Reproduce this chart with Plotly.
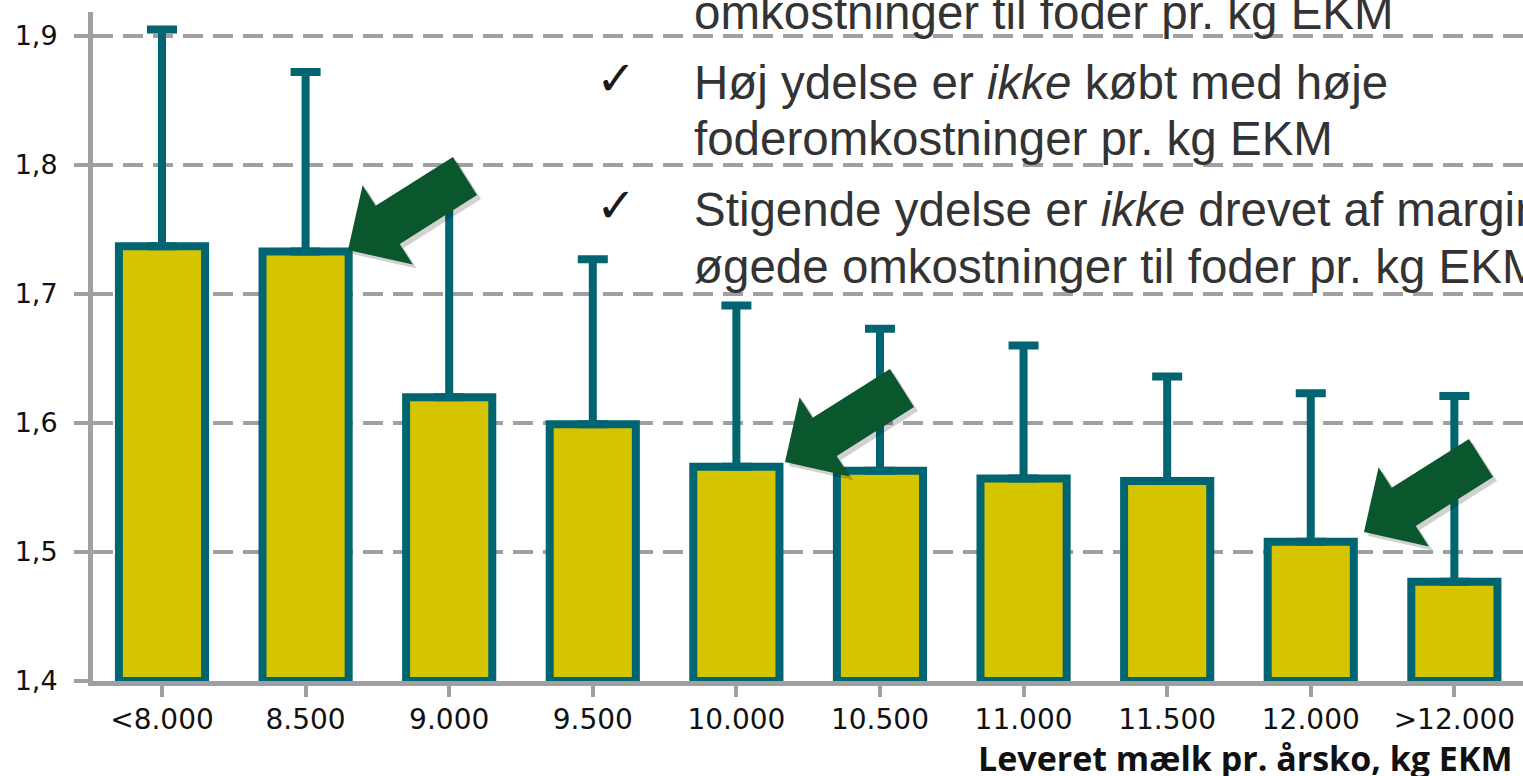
import math
import plotly.graph_objects as go

# ---------------- data ----------------
categories = ["<8.000", "8.500", "9.000", "9.500", "10.000",
              "10.500", "11.000", "11.500", "12.000", ">12.000"]
feed_cost = [1.737, 1.733, 1.620, 1.599, 1.566, 1.563, 1.557, 1.555, 1.508, 1.477]
upper_end = [1.905, 1.872, 1.785, 1.727, 1.691, 1.673, 1.660, 1.636, 1.623, 1.621]
y_tick_vals = [1.4, 1.5, 1.6, 1.7, 1.8, 1.9]
y_tick_text = ["1,4", "1,5", "1,6", "1,7", "1,8", "1,9"]
x_title = "Leveret mælk pr. årsko, kg EKM"
text_lines = [
    "omkostninger til foder pr. kg EKM",
    "Høj ydelse er <i>ikke</i> købt med høje",
    "foderomkostninger pr. kg EKM",
    "Stigende ydelse er <i>ikke</i> drevet af marginalt",
    "øgede omkostninger til foder pr. kg EKM",
]
check_rows = [1, 3]

# ---------------- styling ----------------
W, H = 1523, 776
ML, MR, MT, MB = 93, 0, 12, 95
PW, PH = W - ML - MR, H - MT - MB
YELLOW = "#D5C500"
TEAL = "#006570"
GREY = "#A0A0A4"
GREEN = "#0A572D"
TXT = "#333333"


def px(xp):
    return (xp - ML) / PW


def py(yp):
    return (H - MB - yp) / PH


err_plus = [u - v for u, v in zip(upper_end, feed_cost)]

fig = go.Figure()
fig.add_trace(go.Bar(
    x=list(range(len(categories))),
    y=[v - 1.4 for v in feed_cost],
    base=1.4,
    width=0.6,
    marker=dict(color=YELLOW, line=dict(color=TEAL, width=8)),
    error_y=dict(type="data", symmetric=False, array=err_plus,
                 arrayminus=[0] * len(categories),
                 color=TEAL, thickness=8, width=15),
    hoverinfo="skip",
))

# arrows (decoration)
arrow_tips = [(348, 250), (785, 462), (1364, 532)]
vec = (117, -74)
L = math.hypot(*vec)
u = (vec[0] / L, vec[1] / L)
n = (-u[1], u[0])
head_len, head_half, shaft_half = 47, 47, 22.5


def arrow_path(tx, ty, dx=0, dy=0):
    tx += dx
    ty += dy
    hx, hy = tx + head_len * u[0], ty + head_len * u[1]
    ex, ey = tx + L * u[0], ty + L * u[1]
    pts = [
        (tx, ty),
        (hx + head_half * n[0], hy + head_half * n[1]),
        (hx + shaft_half * n[0], hy + shaft_half * n[1]),
        (ex + shaft_half * n[0], ey + shaft_half * n[1]),
        (ex - shaft_half * n[0], ey - shaft_half * n[1]),
        (hx - shaft_half * n[0], hy - shaft_half * n[1]),
        (hx - head_half * n[0], hy - head_half * n[1]),
    ]
    return "M " + " L ".join(f"{px(a):.5f},{py(b):.5f}" for a, b in pts) + " Z"


shapes = []
for tx, ty in arrow_tips:
    shapes.append(dict(type="path", xref="paper", yref="paper",
                       path=arrow_path(tx, ty, 4, 4),
                       fillcolor="rgba(0,0,0,0.18)", line=dict(width=0),
                       layer="above"))
    shapes.append(dict(type="path", xref="paper", yref="paper",
                       path=arrow_path(tx, ty),
                       fillcolor=GREEN, line=dict(width=0), layer="above"))

# text block
line_centers = [12, 82, 139, 209, 266]
annotations = []
for t, yc in zip(text_lines, line_centers):
    annotations.append(dict(
        text=t, xref="paper", yref="paper", x=px(692), y=py(yc),
        xanchor="left", yanchor="middle", showarrow=False,
        font=dict(family="Liberation Sans, Arial", size=47.5, color=TXT)))
for r in check_rows:
    annotations.append(dict(
        text="✓", xref="paper", yref="paper", x=px(594), y=py(line_centers[r] - 4),
        xanchor="left", yanchor="middle", showarrow=False,
        font=dict(family="DejaVu Sans", size=48, color="#1a1a1a")))
annotations.append(dict(
    text=f"<b>{x_title}</b>", xref="paper", yref="paper", x=px(1515), y=py(758),
    xanchor="right", yanchor="middle", showarrow=False,
    font=dict(family="Open Sans", size=34, color="#111111")))

fig.update_layout(
    width=W, height=H,
    margin=dict(l=ML, r=MR, t=MT, b=MB, pad=0),
    plot_bgcolor="white", paper_bgcolor="white",
    showlegend=False,
    shapes=shapes,
    annotations=annotations,
    xaxis=dict(
        range=[-0.4805, 9.478],
        tickvals=list(range(len(categories))), ticktext=categories,
        showgrid=False, zeroline=False,
        showline=True, linecolor=GREY, linewidth=5,
        ticks="outside", ticklen=11, tickwidth=4, tickcolor=GREY,
        tickfont=dict(family="DejaVu Sans", size=28, color="#111111"),
        ticklabelstandoff=-2,
        layer="below traces",
    ),
    yaxis=dict(
        range=[1.4, 1.9186],
        tickvals=y_tick_vals, ticktext=y_tick_text,
        showgrid=True, gridcolor=GREY, gridwidth=4, griddash="20px,10px",
        zeroline=False,
        showline=True, linecolor=GREY, linewidth=5,
        ticks="outside", ticklen=14, tickwidth=4, tickcolor=GREY,
        tickfont=dict(family="DejaVu Sans", size=27, color="#111111"),
        ticklabelstandoff=11,
        layer="below traces",
    ),
)

fig.write_html("out.html",
               config={"displayModeBar": False},
               post_script="document.body.style.margin='0';document.body.style.overflow='hidden';")
